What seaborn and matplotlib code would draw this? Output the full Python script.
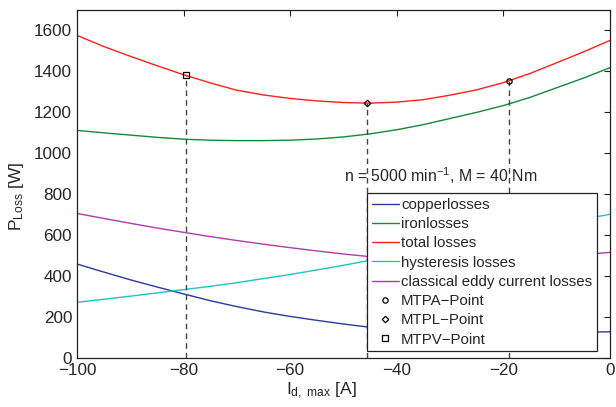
import matplotlib
matplotlib.use("Agg")
import matplotlib.pyplot as plt
import pandas as pd
import seaborn as sns

# d-axis current limit [A]
id_max = [-100, -95, -90, -85, -80, -75, -70, -65, -60, -55, -50,
          -45, -40, -35, -30, -25, -20, -15, -10, -5, 0]

# losses [W]
copper = [459, 420, 382, 347, 313, 280, 251, 225, 203, 184, 166,
          150, 140, 133, 128, 125, 123, 123, 124, 126, 128]
iron = [1112, 1100, 1089, 1078, 1069, 1064, 1062, 1062, 1064, 1070, 1080,
        1095, 1115, 1140, 1170, 1200, 1233, 1273, 1320, 1367, 1418]
total = [1576, 1522, 1474, 1428, 1384, 1344, 1308, 1285, 1268, 1256, 1248,
         1245, 1250, 1262, 1284, 1310, 1345, 1390, 1442, 1495, 1551]
hysteresis = [272, 287, 302, 318, 334, 350, 368, 388, 408, 430, 453,
              477, 505, 530, 555, 580, 605, 630, 655, 678, 702]
eddy = [706, 682, 658, 635, 614, 593, 574, 556, 539, 523, 508,
        495, 486, 480, 477, 478, 481, 487, 495, 505, 516]

# operating points
points = ["MTPA\u2212Point", "MTPL\u2212Point", "MTPV\u2212Point"]
point_id = [-18.9, -45.5, -79.5]
point_p = [1351, 1245, 1384]
point_marker = ["o", "D", "s"]

series = {
    "copperlosses": (copper, "#2a3a9c"),
    "ironlosses": (iron, "#17873b"),
    "total losses": (total, "#ff1f1f"),
    "hysteresis losses": (hysteresis, "#1fc4c4"),
    "classical eddy current losses": (eddy, "#b23ca6"),
}

sns.set_style("white")
plt.rcParams["font.family"] = ["Liberation Sans", "DejaVu Sans"]
plt.rcParams["mathtext.fontset"] = "custom"
plt.rcParams["mathtext.rm"] = "Liberation Sans"
plt.rcParams["mathtext.it"] = "Liberation Sans"

fig = plt.figure(figsize=(6.16, 4.07), dpi=100)
ax = fig.add_axes([0.125, 0.1204, 0.865, 0.855])

for name, (vals, col) in series.items():
    df = pd.DataFrame({"Id": id_max, "P": vals})
    sns.lineplot(data=df, x="Id", y="P", color=col, lw=1.0, label=name, ax=ax)

# dashed drop lines and markers
for lab, x, y, m in zip(points, point_id, point_p, point_marker):
    ax.vlines(x, 0, y, colors="#444444", linestyles=(0, (4, 3)), lw=1.0)
    ax.plot([x], [y], ls="none", marker=m, ms=3.8 if m != "D" else 3.3,
            mfc="none", mec="black", mew=0.9, label=lab)

ax.text(-49.8, 893, "n = 5000 min$^{-1}$, M = 40 Nm", fontsize=11.4, va="center")

ax.set_xlim(-100, 0)
ax.set_ylim(0, 1700)
ax.set_xticks([-100, -80, -60, -40, -20, 0])
ax.set_yticks(range(0, 1601, 200))
ax.tick_params(direction="in", length=4, top=True, right=True, labelsize=12.3,
               color="#222222")
for s in ax.spines.values():
    s.set_color("#222222")
    s.set_linewidth(0.9)

ax.set_xlabel("I$_{\\mathregular{d,\\ max}}$ [A]", fontsize=12.5, labelpad=2)
ax.set_ylabel("P$_{\\mathregular{Loss}}$ [W]", fontsize=12.5, labelpad=6)
ax.xaxis.label.set_x(0.458)
ax.yaxis.label.set_y(0.466)

leg = ax.legend(loc="lower right", bbox_to_anchor=(0.9756, 0.02), fontsize=10.8,
                frameon=True, fancybox=False, framealpha=1, facecolor="white",
                handlelength=1.8, handletextpad=0.15,
                labelspacing=0.35, borderpad=0.3, borderaxespad=0.0)
leg.get_frame().set_edgecolor("#222222")
leg.get_frame().set_linewidth(0.9)

fig.savefig("out.png", dpi=100)
